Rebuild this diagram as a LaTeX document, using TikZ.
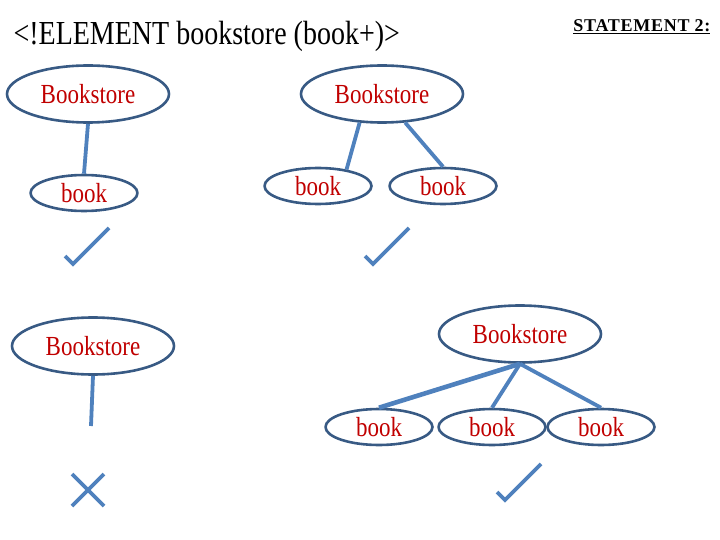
\documentclass[tikz,border=0pt]{standalone}
\usepackage{fontspec}
\setmainfont{Liberation Serif}
\usepackage{tikz}
\usetikzlibrary{shapes.geometric}
\definecolor{dtdline}{RGB}{79,129,189}
\definecolor{dtdrim}{RGB}{56,90,132}
\definecolor{dtdred}{RGB}{192,0,0}
\newcommand{\tallword}[1]{\scalebox{1}[1.2]{#1}}
\tikzset{
  every picture/.append style={line cap=round,line join=round},
  dtd elem/.style={ellipse,draw=dtdrim,line width=2.6pt,inner sep=0pt,
    text=dtdred,font=\fontsize{23}{27}\selectfont},
  dtd root/.style={dtd elem,minimum width=162pt,minimum height=57pt},
  dtd leaf/.style={dtd elem,minimum width=107pt,minimum height=36pt},
  dtd edge/.style={dtdline,line width=3.8pt,line cap=butt},
  dtd tick/.style={dtdline,line width=3.8pt,line cap=butt,line join=miter}
}
\begin{document}
\begin{tikzpicture}[x=1pt,y=-1pt]
\useasboundingbox (0,0) rectangle (720,540);
\node[anchor=west,font=\fontsize{28}{32}\selectfont] (title) at (10,36)
  {\tallword{<!ELEMENT bookstore (book+)>}};
\node[anchor=east,font=\bfseries\fontsize{18}{21}\selectfont] (stmt) at (714,27)
  {\underline{\addfontfeatures{LetterSpace=4}STATEMENT 2:}};

% one book: valid
\node[dtd root] (bs1) at (88,94) {\tallword{Bookstore}};
\node[dtd leaf] (bk1) at (84,193) {\tallword{book}};
\draw[dtd edge] (bs1.south) -- (bk1.north);
\draw[dtd tick] (65,256) -- ++(8,8) -- ++(36,-36);

% two books: valid
\node[dtd root] (bs2) at (382,94) {\tallword{Bookstore}};
\node[dtd leaf] (bk2a) at (318,186) {\tallword{book}};
\node[dtd leaf] (bk2b) at (443,186) {\tallword{book}};
\draw[dtd edge] (bs2.-128) -- (bk2a.30);
\draw[dtd edge] (bs2.-51) -- (bk2b.north);
\draw[dtd tick] (365,256) -- ++(8,8) -- ++(36,-36);

% no book: invalid
\node[dtd root] (bs3) at (93,346) {\tallword{Bookstore}};
\coordinate (loose) at (91,426);
\draw[dtd edge] (bs3.south) -- (loose);
\draw[dtd tick] (72,474) -- (104,506) (104,474) -- (72,506);

% three books: valid
\node[dtd root] (bs4) at (520,334) {\tallword{Bookstore}};
\node[dtd leaf] (bk4a) at (379,427) {\tallword{book}};
\node[dtd leaf] (bk4b) at (492,427) {\tallword{book}};
\node[dtd leaf] (bk4c) at (601,427) {\tallword{book}};
\draw[dtd edge,line width=4.6pt] (bs4.south) -- (bk4a.north);
\draw[dtd edge] (bs4.south) -- (bk4b.north);
\draw[dtd edge] (bs4.south) -- (bk4c.north);
\draw[dtd tick] (497,492) -- ++(8,8) -- ++(36,-36);
\end{tikzpicture}
\end{document}
